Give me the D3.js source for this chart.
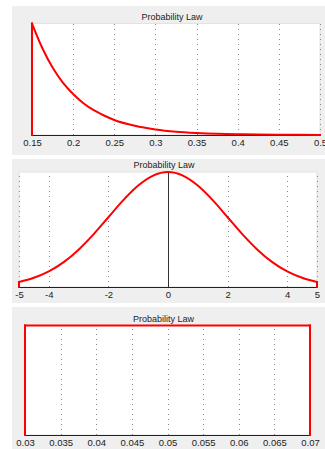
<!DOCTYPE html>
<html>
<head>
<meta charset="utf-8">
<script src="https://cdn.jsdelivr.net/npm/d3@7"></script>
<style>
  html, body { margin: 0; padding: 0; background: #fff; }
  svg { display: block; font-family: "Liberation Sans", Arial, sans-serif; }
</style>
</head>
<body>
<svg id="chart" width="325" height="449"></svg>
<script>
"use strict";

// Exponential law (top panel)
const expX = [0.15, 0.15, 0.1625, 0.175, 0.1875, 0.2, 0.2125, 0.225, 0.2375, 0.25, 0.275, 0.3, 0.325, 0.35, 0.375, 0.4, 0.425, 0.45, 0.475, 0.5];
const expY = [0, 20, 15.6, 12.1, 9.4, 7.35, 5.7, 4.45, 3.5, 2.7, 1.65, 1.0, 0.6, 0.37, 0.22, 0.135, 0.08, 0.05, 0.03, 0.02];
const expTicks = [0.15, 0.2, 0.25, 0.3, 0.35, 0.4, 0.45, 0.5];
const expLabels = ["0.15", "0.2", "0.25", "0.3", "0.35", "0.4", "0.45", "0.5"];

// Normal law (middle panel)
const normX = [-5, -5, -4.5, -4, -3.5, -3, -2.5, -2, -1.5, -1, -0.5, 0, 0.5, 1, 1.5, 2, 2.5, 3, 3.5, 4, 4.5, 5, 5];
const normY = [0, 0.0088, 0.0160, 0.0270, 0.0431, 0.0648, 0.0913, 0.1210, 0.1506, 0.1760, 0.1933, 0.1995, 0.1933, 0.1760, 0.1506, 0.1210, 0.0913, 0.0648, 0.0431, 0.0270, 0.0160, 0.0088, 0];
const normTicks = [-5, -4, -2, 0, 2, 4, 5];
const normLabels = ["-5", "-4", "-2", "0", "2", "4", "5"];

// Uniform law (bottom panel)
const unifX = [0.03, 0.03, 0.07, 0.07];
const unifY = [0, 25, 25, 0];
const unifTicks = [0.03, 0.035, 0.04, 0.045, 0.05, 0.055, 0.06, 0.065, 0.07];
const unifLabels = ["0.03", "0.035", "0.04", "0.045", "0.05", "0.055", "0.06", "0.065", "0.07"];

const title = "Probability Law";

const svg = d3.select("#chart");

const panels = [
  { top: 6, bottom: 155, left: 32, right: 320, plotTop: 23.5, plotBottom: 135,
    xs: expX, ys: expY, ticks: expTicks, labels: expLabels, yMax: 20, zeroAxis: false },
  { top: 159, bottom: 303, left: 19, right: 317, plotTop: 172, plotBottom: 287,
    xs: normX, ys: normY, ticks: normTicks, labels: normLabels, yMax: 0.1995, zeroAxis: true },
  { top: 307, bottom: 449, left: 25, right: 310, plotTop: 325.5, plotBottom: 435,
    xs: unifX, ys: unifY, ticks: unifTicks, labels: unifLabels, yMax: 25, zeroAxis: false }
];

panels.forEach((p) => {
  const g = svg.append("g");

  //gray frame
  g.append("rect")
    .attr("x", 12).attr("y", p.top)
    .attr("width", 325 - 12).attr("height", p.bottom - p.top)
    .attr("fill", "#efefef");

  //white plot area
  g.append("rect")
    .attr("x", p.left).attr("y", p.plotTop)
    .attr("width", p.right - p.left).attr("height", p.plotBottom - p.plotTop)
    .attr("fill", "#fff")
    .attr("stroke", "#e2e2e2")
    .attr("stroke-width", 1);

  g.append("text")
    .attr("x", (p.left + p.right) / 2 - 4)
    .attr("y", p.plotTop - 4)
    .attr("text-anchor", "middle")
    .attr("font-size", 9)
    .attr("fill", "#222")
    .text(title);

  const x = d3.scaleLinear()
    .domain([p.ticks[0], p.ticks[p.ticks.length - 1]])
    .range([p.left, p.right]);
  const y = d3.scaleLinear()
    .domain([0, p.yMax])
    .range([p.plotBottom, p.plotTop]);

  //dotted grid
  g.append("g")
    .attr("transform", `translate(0, ${p.plotBottom})`)
    .call(d3.axisBottom(x).tickValues(p.ticks).tickSize(-(p.plotBottom - p.plotTop)).tickFormat(""))
    .call((a) => a.select(".domain").remove())
    .call((a) => a.selectAll("line")
      .attr("stroke", "#888")
      .attr("stroke-dasharray", "1,4")
      .attr("shape-rendering", "crispEdges"));

  if (p.zeroAxis) {
    g.append("line")
      .attr("x1", Math.round(x(0)) + 0.5).attr("x2", Math.round(x(0)) + 0.5)
      .attr("y1", p.plotTop).attr("y2", p.plotBottom)
      .attr("stroke", "#333");
  }

  //baseline
  g.append("line")
    .attr("x1", p.left).attr("x2", p.right)
    .attr("y1", p.plotBottom + 0.5).attr("y2", p.plotBottom + 0.5)
    .attr("stroke", "#222");

  //tick labels
  g.append("g")
    .attr("transform", `translate(0, ${p.plotBottom})`)
    .call(d3.axisBottom(x).tickValues(p.ticks).tickSize(0).tickPadding(4)
      .tickFormat((d, i) => p.labels[i]))
    .call((a) => a.select(".domain").remove())
    .call((a) => a.selectAll("text")
      .attr("font-family", "Liberation Sans, Arial, sans-serif")
      .attr("font-size", 9.5)
      .attr("fill", "#222"));

  const pts = p.xs.map((v, i) => [v, p.ys[i]]);

  //split into smooth part and vertical edges (same x twice)
  const edges = [];
  const smooth = pts.filter((d, i) => {
    const prev = pts[i - 1];
    const next = pts[i + 1];
    if (next && next[0] === d[0] && d[1] === 0) { edges.push([d, next]); return false; }
    if (prev && prev[0] === d[0] && d[1] === 0) { edges.push([prev, d]); return false; }
    return true;
  });

  const smoothLine = d3.line()
    .x((d) => x(d[0]))
    .y((d) => y(d[1]))
    .curve(smooth.length > 2 ? d3.curveMonotoneX : d3.curveLinear);
  const edgeLine = d3.line()
    .x((d) => x(d[0]))
    .y((d) => y(d[1]));

  const red = g.append("g")
    .attr("fill", "none")
    .attr("stroke", "#ff0000")
    .attr("stroke-width", 2)
    .attr("stroke-linejoin", "miter")
    .attr("stroke-linecap", "square");

  red.append("path").datum(smooth).attr("d", smoothLine);
  red.selectAll(".edge").data(edges).enter()
    .append("path")
    .attr("class", "edge")
    .attr("d", edgeLine);
});
</script>
</body>
</html>
